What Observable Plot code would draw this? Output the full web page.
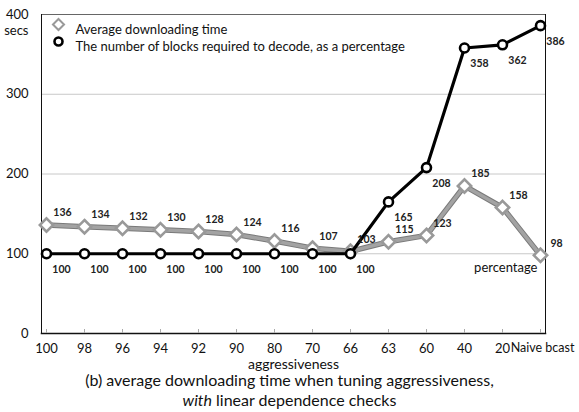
<!DOCTYPE html>
<html>
<head>
<meta charset="utf-8">
<script src="https://cdn.jsdelivr.net/npm/d3@7"></script>
<script src="https://cdn.jsdelivr.net/npm/@observablehq/plot@0.6"></script>
<style>
  body { margin: 0; background: #fff; font-family: Lato, "Open Sans", sans-serif; }
  #wrap { width: 579px; }
  #caption { width: 579px; text-align: center; font-size: 16px; line-height: 20px; color: #111; }
  svg { overflow: visible; }
</style>
</head>
<body>
<div id="wrap"></div>
<script>
const categories = ["100", "98", "96", "94", "92", "90", "80", "70", "66", "63", "60", "40", "20", "Naive bcast"];
const avgTime = [136, 134, 132, 130, 128, 124, 116, 107, 103, 115, 123, 185, 158, 98];
const blocksPct = [100, 100, 100, 100, 100, 100, 100, 100, 100, 165, 208, 358, 362, 386];
const yTicks = [0, 100, 200, 300, 400];
const gridTicks = [100, 200, 300];
const seriesNames = ["Average downloading time", "The number of blocks required to decode, as a percentage"];

const grey = categories.map((c, i) => ({cat: c, v: avgTime[i]}));
const black = categories.map((c, i) => ({cat: c, v: blocksPct[i]}));

const font = "Lato, 'Open Sans', sans-serif";

const chart = Plot.plot({
  width: 579,
  height: 370,
  marginLeft: 41,
  marginRight: 34,
  marginTop: 14,
  marginBottom: 37,
  style: {fontFamily: font, fontSize: "13px", color: "#111", background: "#fff", overflow: "visible"},
  x: {type: "point", domain: categories, padding: 0},
  y: {domain: [0, 400]},
  marks: [
    Plot.ruleY(gridTicks, {stroke: "#c8c8c8", strokeWidth: 1}),
    Plot.frame({anchor: "top", stroke: "#666"}),
    Plot.frame({anchor: "right", stroke: "#111"}),
    Plot.frame({anchor: "left", stroke: "#111"}),
    Plot.frame({anchor: "bottom", stroke: "#111", strokeWidth: 1.5}),
    Plot.axisY({ticks: yTicks, tickSize: 0, tickPadding: 13, fontSize: 13, tickFormat: d => String(d), label: null}),
    Plot.text(["secs"], {frameAnchor: "top-left", dx: -13, dy: 11, textAnchor: "end", fontSize: 13}),
    Plot.axisX({tickSize: -4, stroke: "#aaa", text: null, label: null}),
    Plot.axisX({ticks: categories.slice(0, -1), tickSize: 0, tickPadding: 10, fontSize: 13, label: null}),
    Plot.axisX({ticks: categories.slice(-1), tickSize: 0, tickPadding: 10, fontSize: 12.5, dx: 2, label: null}),
    Plot.text(["aggressiveness"], {frameAnchor: "bottom", dy: 35, fontSize: 14}),
    // grey series
    Plot.line(grey, {x: "cat", y: "v", stroke: "#7a7a7a", strokeWidth: 5.5, strokeLinejoin: "round"}),
    Plot.line(grey, {x: "cat", y: "v", stroke: "#a3a3a3", strokeWidth: 3.5, strokeLinejoin: "round"}),
    Plot.dot(grey, {x: "cat", y: "v", symbol: "diamond2", r: 6, fill: "#fff", stroke: "#999", strokeWidth: 2.6}),
    // black series
    Plot.line(black, {x: "cat", y: "v", stroke: "#000", strokeWidth: 3.2, strokeLinejoin: "round"}),
    Plot.dot(black, {x: "cat", y: "v", r: 4.5, fill: "#fff", stroke: "#000", strokeWidth: 2.6}),
    // value labels
    Plot.text(grey, {x: "cat", y: "v", text: d => String(d.v), dx: 16, dy: -12, fontSize: 10.5, fontWeight: 700, fill: "#222"}),
    Plot.text(black, {x: "cat", y: "v", text: d => String(d.v), dx: 15, dy: 16, fontSize: 10.5, fontWeight: 700, fill: "#222"}),
    Plot.text(["percentage"], {frameAnchor: "right", dx: -8, dy: 93.5, textAnchor: "end", fontSize: 13}),
    // legend
    Plot.dot([seriesNames[0]], {frameAnchor: "top-left", dx: 17, dy: 10, symbol: "diamond2", r: 5, fill: "#fff", stroke: "#999", strokeWidth: 2}),
    Plot.dot([seriesNames[1]], {frameAnchor: "top-left", dx: 17, dy: 27, r: 4, fill: "#fff", stroke: "#000", strokeWidth: 2.6}),
    Plot.text([seriesNames[0]], {frameAnchor: "top-left", dx: 34, dy: 10, textAnchor: "start", fontSize: 13, fill: "#111"}),
    Plot.text([seriesNames[1]], {frameAnchor: "top-left", dx: 34, dy: 27, textAnchor: "start", fontSize: 13, fill: "#111"}),
  ]
});

document.getElementById("wrap").appendChild(chart);
const cap = document.createElement("div");
cap.id = "caption";
cap.innerHTML = "(b) average downloading time when tuning aggressiveness,<br><i>with</i> linear dependence checks";
document.getElementById("wrap").appendChild(cap);
</script>
</body>
</html>
